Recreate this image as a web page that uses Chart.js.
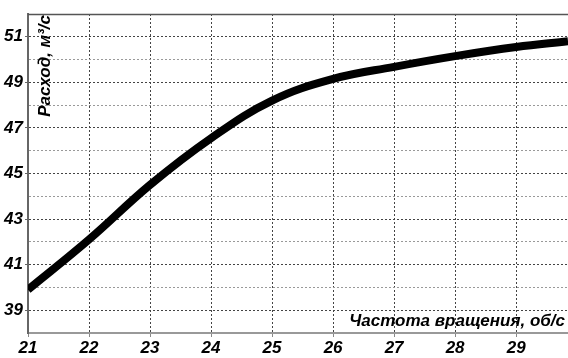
<!DOCTYPE html>
<html>
<head>
<meta charset="utf-8">
<script src="https://cdn.jsdelivr.net/npm/chart.js@4"></script>
<style>
  html, body { margin: 0; padding: 0; background: #fff; }
  #wrap { width: 568px; height: 358px; }
</style>
</head>
<body>
<div id="wrap"><canvas id="c" width="568" height="358"></canvas></div>
<script>
// flow vs rotation speed
const speed = [21, 22, 23, 24, 25, 26, 27, 28, 29, 29.85];
const flow = [39.9, 42.1, 44.5, 46.55, 48.2, 49.15, 49.68, 50.15, 50.55, 50.8];
const xTicks = [21, 22, 23, 24, 25, 26, 27, 28, 29];
const yTitle = 'Расход, м³/с';
const xTitle = 'Частота вращения, об/с';

const fam = '"Liberation Sans", Arial, sans-serif';

const titles = {
    id: 'titles',
    afterDraw(chart) {
        const ctx = chart.ctx;
        const area = chart.chartArea;
        // top frame line
        ctx.save();
        ctx.strokeStyle = '#555';
        ctx.lineWidth = 1.5;
        ctx.beginPath();
        ctx.moveTo(area.left, area.top + 0.5);
        ctx.lineTo(area.right, area.top + 0.5);
        ctx.stroke();
        ctx.restore();

        ctx.save();
        ctx.fillStyle = '#000';
        ctx.font = 'bold italic 17px ' + fam;
        ctx.translate(area.left + 17, area.top + 1);
        ctx.rotate(-Math.PI / 2);
        ctx.textAlign = 'right';
        ctx.textBaseline = 'middle';
        ctx.fillText(yTitle, 0, 0);
        ctx.restore();

        ctx.save();
        ctx.fillStyle = '#000';
        ctx.font = 'bold italic 17px ' + fam;
        ctx.textAlign = 'right';
        ctx.textBaseline = 'alphabetic';
        ctx.fillText(xTitle, area.right - 3, area.bottom - 7);
        ctx.restore();
    }
};

new Chart(document.getElementById('c').getContext('2d'), {
    type: 'line',
    data: {
        datasets: [{
            data: speed.map((x, i) => ({ x: x, y: flow[i] })),
            borderColor: '#000',
            borderWidth: 8,
            borderCapStyle: 'butt',
            tension: 0.4,
            pointRadius: 0,
            fill: false
        }]
    },
    options: {
        responsive: false,
        animation: false,
        layout: { padding: { top: 14, right: 0, left: 0, bottom: 0 } },
        plugins: {
            legend: { display: false },
            tooltip: { enabled: false }
        },
        scales: {
            x: {
                type: 'linear',
                min: 21,
                max: 29.85,
                afterBuildTicks: axis => {
                    axis.ticks = xTicks.map(v => ({ value: v }));
                },
                afterFit: axis => { axis.height = 25; },
                ticks: {
                    color: '#000',
                    autoSkip: false,
                    font: { family: fam, size: 17, weight: 'bold', style: 'italic' },
                    padding: 1,
                    maxRotation: 0
                },
                grid: {
                    color: ctx => ctx.tick && ctx.tick.value === 21 ? 'rgba(0,0,0,0)' : '#444',
                    lineWidth: 1,
                    drawTicks: true,
                    tickLength: 4,
                    tickColor: '#888'
                },
                border: { display: true, color: '#999', width: 2, dash: [2, 2] }
            },
            y: {
                type: 'linear',
                min: 38,
                max: 52,
                afterFit: axis => { axis.width = 28; },
                ticks: {
                    stepSize: 1,
                    color: '#000',
                    padding: 2,
                    autoSkip: false,
                    font: { family: fam, size: 17, weight: 'bold', style: 'italic' },
                    callback: v => (v % 2 === 1 ? String(v) : '')
                },
                grid: {
                    color: ctx => {
                        if (!ctx.tick) return '#444';
                        if (ctx.tick.value === 38) return 'rgba(0,0,0,0)';
                        return ctx.tick.value % 2 === 1 ? '#444' : '#999';
                    },
                    lineWidth: 1,
                    drawTicks: true,
                    tickLength: 3,
                    tickColor: ctx => ctx.tick && ctx.tick.value % 2 === 1 ? '#666' : 'rgba(0,0,0,0)'
                },
                border: { display: true, color: '#666', width: 2, dash: [2, 2] }
            }
        }
    },
    plugins: [titles]
});
</script>
</body>
</html>
